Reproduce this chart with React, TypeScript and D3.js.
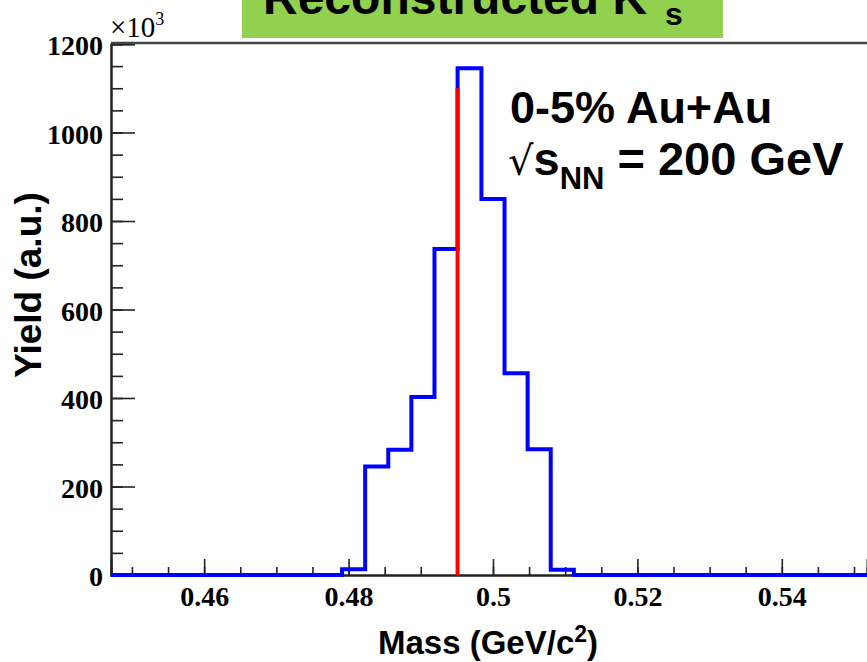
import React, { useEffect, useRef } from "react";
import * as d3 from "d3";

// histogram of reconstructed K0s invariant mass
const binEdges = [0.4791, 0.4823, 0.4855, 0.4887, 0.4919, 0.4951, 0.4984, 0.5016, 0.5048, 0.508, 0.5112];
const binYields = [13000, 245000, 283000, 402000, 737000, 1145000, 850000, 456000, 284000, 12000];
const massRange = [0.4471, 0.5518];
const yieldRange = [0, 1200000];
const xMajorTicks = [0.46, 0.48, 0.5, 0.52, 0.54];
const yMajorTicks = [0, 200000, 400000, 600000, 800000, 1000000, 1200000];
const markerMass = 0.4951;
const markerTop = 1100000;

const App = () => {
	const ref = useRef<SVGSVGElement>(null);

	useEffect(() => {
		const width = 867;
		const height = 662;
		const left = 111;
		const right = 867;
		const top = 44;
		const bottom = 575;

		const svg = d3.select(ref.current);
		svg.selectAll("*").remove();
		svg.attr("width", width).attr("height", height);

		const x = d3.scaleLinear().domain(massRange).range([left, right]);
		const y = d3.scaleLinear().domain(yieldRange).range([bottom, top]);

		// title box
		svg.append("rect").attr("x", 242).attr("y", -10).attr("width", 481).attr("height", 48).attr("fill", "#92d050");
		const title = svg
			.append("text")
			.attr("x", 263)
			.attr("y", 14)
			.attr("font-family", "Liberation Sans, Arial, sans-serif")
			.attr("font-weight", "bold")
			.attr("font-size", 48)
			.attr("fill", "#000");
		title.append("tspan").text("Reconstructed K");
		title.append("tspan").attr("font-size", 32).attr("dx", 18).attr("dy", 11).text("s");

		// minor ticks
		const xMinor = d3.range(0.445, 0.555, 0.005).filter((v) => v >= massRange[0] && v <= massRange[1]);
		const yMinor = d3.range(0, 1200001, 50000);

		const tickColor = "#222";
		const xAxisMinor = svg
			.append("g")
			.attr("transform", `translate(0,${bottom})`)
			.call(d3.axisBottom(x).tickValues(xMinor).tickSize(-8).tickFormat(() => ""));
		const xAxis = svg
			.append("g")
			.attr("transform", `translate(0,${bottom})`)
			.call(
				d3
					.axisBottom(x)
					.tickValues(xMajorTicks)
					.tickSize(-16)
					.tickPadding(11)
					.tickFormat((d) => d3.format("")(+d))
			);
		const yAxisMinor = svg
			.append("g")
			.attr("transform", `translate(${left},0)`)
			.call(d3.axisLeft(y).tickValues(yMinor).tickSize(-12).tickFormat(() => ""));
		const yAxis = svg
			.append("g")
			.attr("transform", `translate(${left},0)`)
			.call(
				d3
					.axisLeft(y)
					.tickValues(yMajorTicks)
					.tickSize(-24)
					.tickPadding(8)
					.tickFormat((d) => String(+d / 1000))
			);

		[xAxisMinor, xAxis, yAxisMinor, yAxis].forEach((g) => {
			g.select(".domain").attr("stroke", tickColor).attr("stroke-width", 2);
			g.selectAll(".tick line").attr("stroke", tickColor).attr("stroke-width", 1.6);
			g.selectAll("text")
				.attr("font-family", "Liberation Serif, Times New Roman, serif")
				.attr("font-weight", "bold")
				.attr("font-size", 28)
				.attr("fill", "#000");
		});
		yAxis.selectAll("text").attr("dy", "0.38em");

		// frame top
		svg
			.append("line")
			.attr("x1", left)
			.attr("x2", right)
			.attr("y1", top - 1)
			.attr("y2", top - 1)
			.attr("stroke", "#444")
			.attr("stroke-width", 2.5);

		// exponent
		const expo = svg
			.append("text")
			.attr("x", 110)
			.attr("y", 37)
			.attr("font-family", "Liberation Serif, Times New Roman, serif")
			.attr("font-size", 29)
			.attr("fill", "#000");
		expo.append("tspan").text("×10");
		expo.append("tspan").attr("font-size", 18).attr("dy", -12).text("3");

		// histogram outline
		const pts: [number, number][] = [[massRange[0], 0]];
		binYields.forEach((v, i) => {
			pts.push([binEdges[i], i === 0 ? 0 : binYields[i - 1]]);
			pts.push([binEdges[i], v]);
		});
		pts.push([binEdges[binEdges.length - 1], binYields[binYields.length - 1]]);
		pts.push([binEdges[binEdges.length - 1], 0]);
		pts.push([massRange[1], 0]);

		const line = d3
			.line<[number, number]>()
			.x((d) => x(d[0]))
			.y((d) => y(d[1]));

		svg
			.append("path")
			.datum(pts)
			.attr("fill", "none")
			.attr("stroke", "#0000ff")
			.attr("stroke-width", 4)
			.attr("d", line);

		// marker line
		svg
			.append("line")
			.attr("x1", x(markerMass))
			.attr("x2", x(markerMass))
			.attr("y1", y(0))
			.attr("y2", y(markerTop))
			.attr("stroke", "#ff0000")
			.attr("stroke-width", 4);

		// annotation
		const sans = "Liberation Sans, Arial, sans-serif";
		svg
			.append("text")
			.attr("x", 510)
			.attr("y", 123)
			.attr("font-family", sans)
			.attr("font-weight", "bold")
			.attr("font-size", 45)
			.text("0-5% Au+Au");
		const energy = svg
			.append("text")
			.attr("x", 508)
			.attr("y", 175)
			.attr("font-family", sans)
			.attr("font-weight", "bold")
			.attr("font-size", 47);
		energy.append("tspan").attr("font-family", "DejaVu Serif, serif").attr("font-weight", "normal").attr("font-size", 40).text("√");
		energy.append("tspan").text("s");
		energy.append("tspan").attr("font-size", 31).attr("dy", 14).text("NN");
		energy.append("tspan").attr("dy", -14).text(" = 200 GeV");

		// axis titles
		const xt = svg
			.append("text")
			.attr("x", 488)
			.attr("y", 654)
			.attr("text-anchor", "middle")
			.attr("font-family", sans)
			.attr("font-weight", "bold")
			.attr("font-size", 33);
		xt.append("tspan").text("Mass (GeV/c");
		xt.append("tspan").attr("font-size", 23).attr("dy", -12).text("2");
		xt.append("tspan").attr("dy", 12).text(")");

		svg
			.append("text")
			.attr("transform", "translate(41,285) rotate(-90)")
			.attr("text-anchor", "middle")
			.attr("font-family", sans)
			.attr("font-weight", "bold")
			.attr("font-size", 37)
			.text("Yield (a.u.)");
	}, []);

	return <svg ref={ref} style={{ position: "absolute", left: 0, top: 0 }} />;
};

export default App;
